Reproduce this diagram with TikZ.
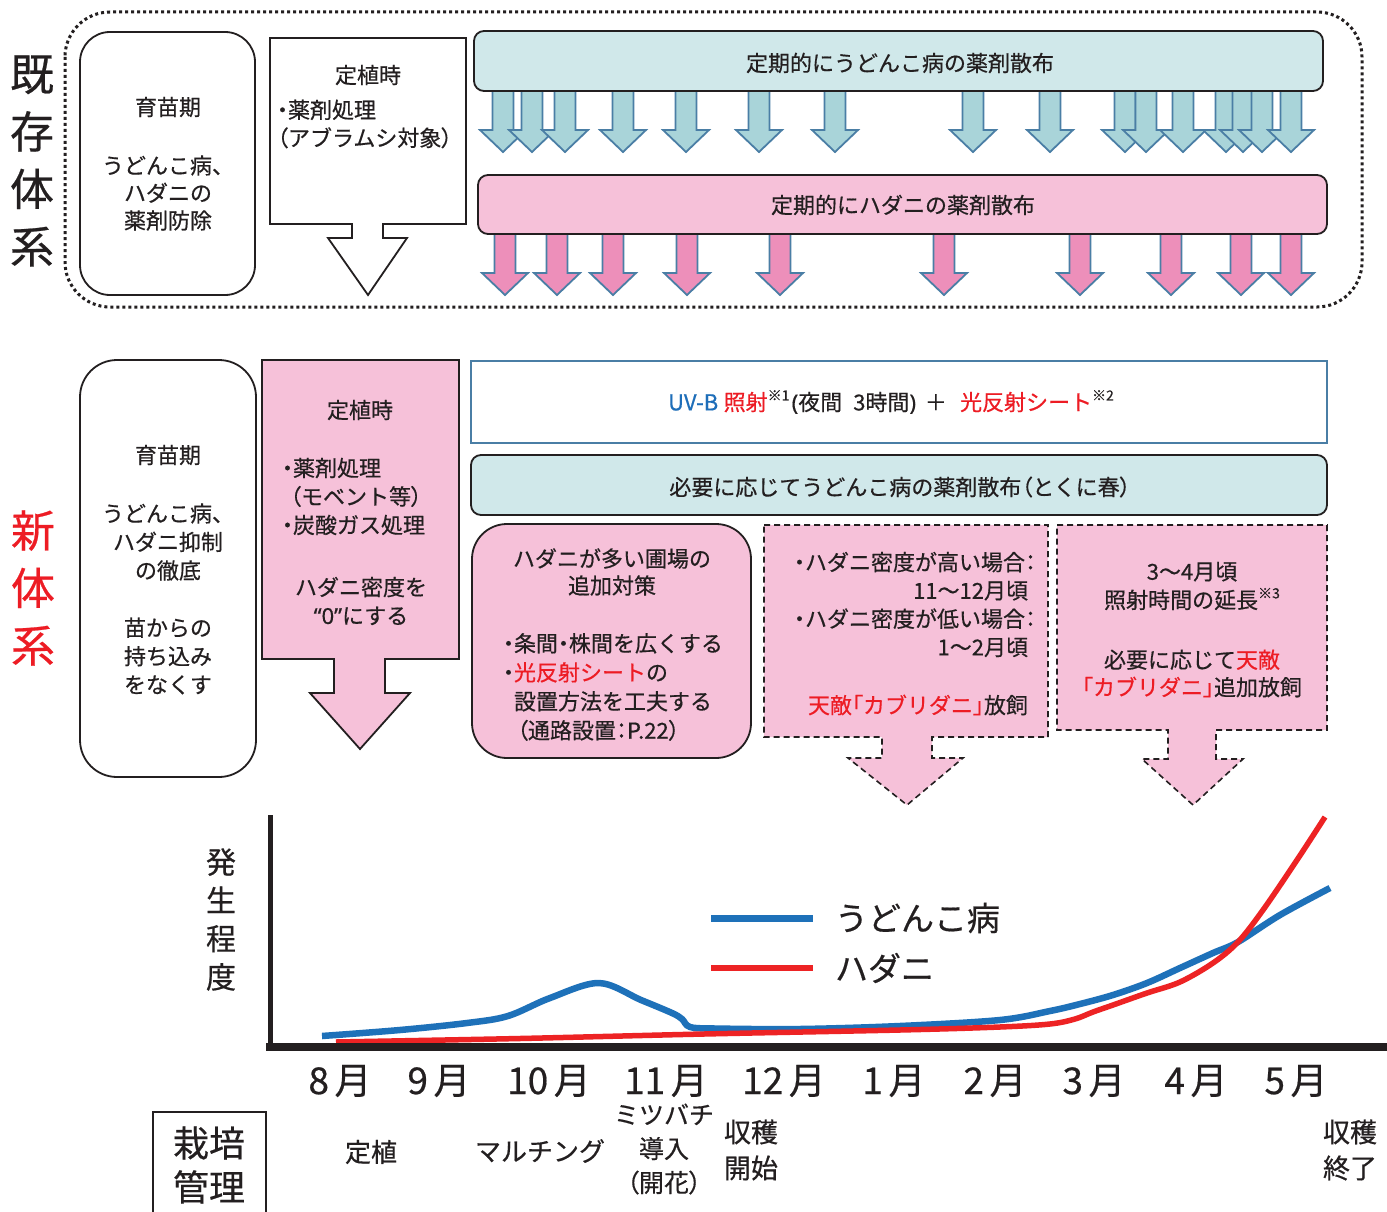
\documentclass[tikz,border=0pt]{standalone}
\usepackage{fontspec}
\setmainfont{Noto Sans CJK JP}[FakeBold=0.5]
\newfontfamily\latfont{Noto Sans}[FakeBold=0.5]
\newfontfamily\paltfont{Noto Sans CJK JP}[RawFeature=+palt,FakeBold=0.5]
\usetikzlibrary{calc}
\definecolor{ink}{RGB}{35,31,32}
\definecolor{tealfill}{RGB}{208,232,234}
\definecolor{tealarrow}{RGB}{169,212,217}
\definecolor{steel}{RGB}{74,126,165}
\definecolor{pinkfill}{RGB}{246,193,217}
\definecolor{pinkarrow}{RGB}{237,143,186}
\definecolor{redtxt}{RGB}{237,28,36}
\definecolor{uvblue}{RGB}{30,110,185}
\definecolor{curveblue}{RGB}{30,113,185}
\definecolor{curvered}{RGB}{237,35,36}
\newcommand\jlp{{\paltfont （}}
\newcommand\jrp{{\paltfont ）}}
\newcommand\jlb{{\paltfont 「}}
\newcommand\jrb{{\paltfont 」}}
\newcommand\jmd{{\paltfont ・}}
\newcommand\jcl{{\paltfont ：}}
\newcommand\jsup[1]{\raisebox{0.45em}{\fontsize{14}{14}\selectfont #1}}
\newcommand\jind[1]{\rule{#1}{0pt}}
\begin{document}
\begin{tikzpicture}[x=1pt,y=-1pt,
  txt/.style={inner sep=0pt, outer sep=0pt, text=ink, align=center},
  f22/.style={font=\fontsize{22}{28.5}\selectfont},
  f44/.style={font=\fontsize{44}{57.5}\selectfont},
  boxline/.style={draw=ink, line width=1.8pt},
  arrowline/.style={draw=steel, line width=1.8pt, line join=miter},
  dashline/.style={draw=ink, line width=1.6pt, dash pattern=on 6pt off 4pt},
]
\useasboundingbox (0,0) rectangle (1387,1212);
\fill[white] (0,0) rectangle (1387,1212);

%================ TOP (existing system) =================
\draw[ink, line width=3pt, dash pattern=on 3pt off 3pt, rounded corners=45pt] (65,12) rectangle (1362,307);
\node[txt,f44] (kizon) at (32,161) {既\\存\\体\\系};

\draw[boxline, rounded corners=30pt] (80,32) rectangle (255,295);
\node[txt,f22] (t1a) at (168,107) {育苗期};
\node[txt,f22,font=\fontsize{22}{27.5}\selectfont] (t1b) at (168,193) {うどんこ病、\\ハダニの\\薬剤防除};

\draw[boxline, fill=white, line join=miter] (270,38) -- (466,38) -- (466,224) -- (383,224) -- (383,238) -- (407,238) -- (368,295) -- (328,238) -- (352,238) -- (352,224) -- (270,224) -- cycle;
\node[txt,f22] (t2a) at (368,75) {定植時};
\node[txt,f22,align=left,anchor=west,font=\fontsize{22}{28}\selectfont] (t2b) at (277,124) {\jmd 薬剤処理\\\jlp アブラムシ対象\jrp};

% blue arrows
\foreach \x in {503,532,565,623,686,759,835,973,1050,1125,1146,1183,1226,1243,1262,1291} {
  \filldraw[fill=tealarrow, arrowline] ({\x-10.5},89) -- ({\x+10.5},89) -- ({\x+10.5},130) -- ({\x+23},130) -- (\x,152) -- ({\x-23},130) -- ({\x-10.5},130) -- cycle;
}
\draw[boxline, fill=tealfill, rounded corners=10pt] (474,31) rectangle (1323,91);
\node[txt,f22] (tb1) at (900,63) {定期的にうどんこ病の薬剤散布};

% pink arrows
\foreach \x in {505,557,613,687,780,944,1080,1171,1241,1291} {
  \filldraw[fill=pinkarrow, arrowline] ({\x-10.5},233) -- ({\x+10.5},233) -- ({\x+10.5},273) -- ({\x+23},273) -- (\x,295) -- ({\x-23},273) -- ({\x-10.5},273) -- cycle;
}
\draw[boxline, fill=pinkfill, rounded corners=10pt] (478,175) rectangle (1327,234);
\node[txt,f22] (tp1) at (903,205) {定期的にハダニの薬剤散布};

%================ MIDDLE (new system) =================
\node[txt,f44,text=redtxt] (shin) at (33,588) {新\\体\\系};

\draw[boxline, rounded corners=37pt] (80,360) rectangle (256,777);
\node[txt,f22] (m1a) at (168,455) {育苗期};
\node[txt,f22] (m1b) at (168,542) {うどんこ病、\\ハダニ抑制\\の徹底};
\node[txt,f22] (m1c) at (168,656) {苗からの\\持ち込み\\をなくす};

\draw[boxline, fill=pinkfill, line join=miter] (262,360) -- (459,360) -- (459,659) -- (385,659) -- (385,693) -- (410,693) -- (360,749) -- (310,693) -- (334,693) -- (334,659) -- (262,659) -- cycle;
\node[txt,f22] (m2a) at (360,410) {定植時};
\node[txt,f22,align=left,anchor=west] (m2b) at (282,496.5) {\jmd 薬剤処理\\\jind{8pt}\jlp モベント等\jrp\\\jmd 炭酸ガス処理};
\node[txt,f22] (m2c) at (361,601) {ハダニ密度を\\{\latfont “0”}にする};

\draw[draw=steel, line width=2.5pt, fill=white] (471,361) rectangle (1327,443);
\node[txt,f22] (uvb) at (891,402) {\textcolor{uvblue}{UV-B}\hspace{0.25em}\textcolor{redtxt}{照射}\jsup{※1}\hspace{0.1em}{\latfont (}夜間\hspace{0.5em}3時間{\latfont )}\hspace{0.4em}＋\hspace{0.6em}\textcolor{redtxt}{光反射シート}\jsup{※2}};

\draw[boxline, fill=tealfill, rounded corners=10pt] (471,455) rectangle (1327,515);
\node[txt,f22] (tb2) at (900,487) {必要に応じてうどんこ病の薬剤散布\jlp とくに春\jrp};

\draw[boxline, fill=pinkfill, rounded corners=35pt] (472,524) rectangle (751,758);
\node[txt,f22,font=\fontsize{22}{27}\selectfont] (p1a) at (612,572) {ハダニが多い圃場の\\追加対策};
\node[txt,f22,align=left,anchor=west,font=\fontsize{22}{29}\selectfont] (p1b) at (503,687) {\jmd 条間\jmd 株間を広くする\\\jmd\textcolor{redtxt}{光反射シート}の\\\jind{11pt}設置方法を工夫する\\\jind{14pt}\jlp 通路設置\jcl P.22\jrp};

\filldraw[fill=pinkfill, dashline, line join=miter] (764,525) -- (1048,525) -- (1048,737) -- (932,737) -- (932,758) -- (963,758) -- (907,805) -- (848,758) -- (882,758) -- (882,737) -- (764,737) -- cycle;
\node[txt,f22,align=right,anchor=east,font=\fontsize{22}{28.3}\selectfont] (d1a) at (1036,604.5) {\jmd ハダニ密度が高い場合\jcl\\11〜12月頃\jind{8pt}\\\jmd ハダニ密度が低い場合\jcl\\1〜2月頃\jind{8pt}};
\node[txt,f22,anchor=east] (d1b) at (1028,705) {\textcolor{redtxt}{天敵\jlb カブリダニ\jrb}放飼};

\filldraw[fill=pinkfill, dashline, line join=miter] (1057,525) -- (1327,525) -- (1327,730) -- (1216,730) -- (1216,759) -- (1243,759) -- (1193,805) -- (1142,759) -- (1168,759) -- (1168,730) -- (1057,730) -- cycle;
\node[txt,f22] (d2a) at (1192,586) {3〜4月頃\\照射時間の延長\jsup{※3}};
\node[txt,f22,font=\fontsize{22}{27.5}\selectfont] (d2b) at (1192,673.5) {必要に応じて\textcolor{redtxt}{天敵}\\\textcolor{redtxt}{\jlb カブリダニ\jrb}追加放飼};

%================ CHART =================
\node[txt,font=\fontsize{30}{38.3}\selectfont] (hassei) at (221,919.5) {発\\生\\程\\度};

\draw[curveblue, line width=6.5pt] plot[smooth, tension=0.55] coordinates {(322,1036) (400,1030) (467,1023) (508,1016) (550,998) (599,983) (641,1000) (672,1013) (682,1019) (690,1027) (715,1028.5) (800,1029) (900,1026) (1000,1020) (1050,1011) (1080,1004) (1113,995) (1147,983) (1180,968) (1213,953) (1238,942) (1280,915) (1330,888)};
\draw[curvered, line width=5.5pt] plot[smooth, tension=0.55] coordinates {(336,1042) (520,1038.5) (704,1034) (900,1030) (1000,1027) (1050,1024) (1075,1019) (1093,1012) (1113,1005) (1147,993) (1180,982) (1213,963) (1238,942) (1263,910) (1297,860) (1325,817)};

\draw[ink, line width=5pt] (270,815) -- (270,1047);
\draw[ink, line width=7.5pt] (266,1047) -- (1387,1047);

\draw[curveblue, line width=7pt] (711,918) -- (813,918);
\draw[curvered, line width=6pt] (711,968) -- (813,968);
\node[txt,anchor=west,font=\fontsize{33}{33}\selectfont] (lg1) at (835,918) {うどんこ病};
\node[txt,anchor=west,font=\fontsize{33}{33}\selectfont] (lg2) at (835,968) {ハダニ};

\foreach \n/\x in {8/340, 9/439, 10/549, 11/666, 12/784, 1/894, 2/995, 3/1094, 4/1196, 5/1296} {
  \node[txt,font=\fontsize{37}{37}\selectfont] (month-\x) at (\x,1081) {\n\hspace{0.15em}月};
}

\draw[ink, line width=2pt] (153,1215) -- (153,1112) -- (266,1112) -- (266,1215);
\node[txt,font=\fontsize{36}{44}\selectfont] (saibai) at (209,1165) {栽培\\管理};

\node[txt,font=\fontsize{26}{34}\selectfont] (teishoku) at (371,1152) {定植};
\node[txt,font=\fontsize{26}{34}\selectfont] (mulch) at (540,1151) {マルチング};
\node[txt,font=\fontsize{25}{34}\selectfont] (mitsubachi) at (664,1149) {ミツバチ\\導入\\\jlp 開花\jrp};
\node[txt,font=\fontsize{27}{36}\selectfont] (shukaku1) at (751,1150) {収穫\\開始};
\node[txt,font=\fontsize{27}{36}\selectfont] (shukaku2) at (1350,1150) {収穫\\終了};
\end{tikzpicture}
\end{document}
